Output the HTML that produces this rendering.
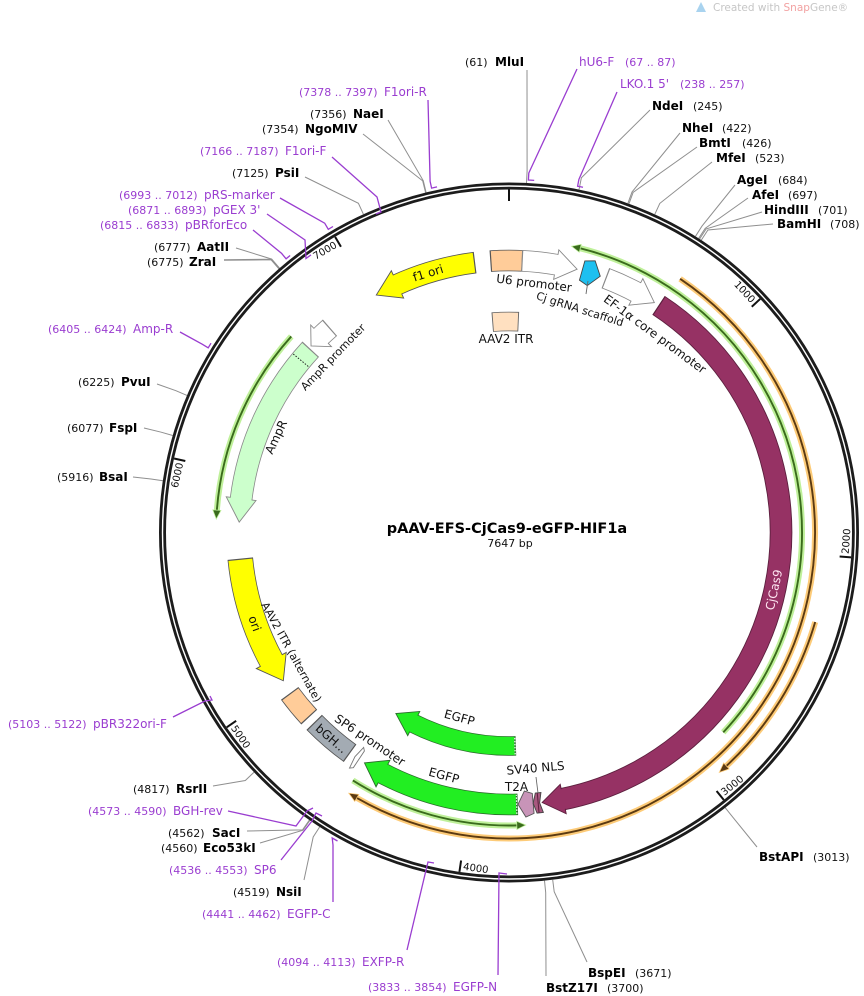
<!DOCTYPE html>
<html><head><meta charset="utf-8">
<style>
html,body{margin:0;padding:0;background:#fff;}
svg{display:block;}
text{font-family:"DejaVu Sans","Liberation Sans",sans-serif;}
.n{font-size:11px;fill:#111;}
.b{font-size:12px;font-weight:bold;fill:#000;}
.pr{font-size:11px;fill:#9a3dd0;}
.pn{font-size:12px;fill:#9a3dd0;}
.rl{fill:none;stroke:#8f8f8f;stroke-width:1;}
.pl{fill:none;stroke:#9a3dd0;stroke-width:1.3;}
.fl{font-size:12px;fill:#111;}
.fs{font-size:11px;fill:#111;}
.tk{font-size:10px;fill:#111;}
.c{fill:none;}
</style></head><body>
<svg width="864" height="996" viewBox="0 0 864 996" xmlns="http://www.w3.org/2000/svg">
<rect width="864" height="996" fill="#fff"/>

<!-- watermark -->
<path d="M696 12 L701 2 L706 12 Z" fill="#a9d3ef"/>
<text x="713" y="11" style="font-size:10.5px;fill:#c6c6c6">Created with <tspan style="fill:#f2a2a2">Snap</tspan>Gene®</text>

<!-- restriction site lines -->
<g class="rl">
<polyline points="527,70 527.1,171 526.5,183"/>
<polyline points="650,110 581.4,177.8 579,189.6"/>
<polyline points="680,133 632,192 627.9,203.3"/>
<polyline points="697,147 633.1,192.4 629,203.7"/>
<polyline points="712,162 659.8,203.4 654.8,214.3"/>
<polyline points="735,185 701.9,226.2 695.5,236.3"/>
<polyline points="748,198 705.2,228.3 698.7,238.3"/>
<polyline points="762,212 706.2,228.9 699.6,239"/>
<polyline points="773,224 707.9,230 701.3,240.1"/>
<polyline points="757,847 732.7,817.1 725.2,807.7"/>
<polyline points="587,962 554.2,891.7 552.7,879.8"/>
<polyline points="546,976 545.7,892.6 544.5,880.7"/>
<polyline points="304,880 313.2,837 319.7,826.9"/>
<polyline points="260,843 303,830.2 309.9,820.3"/>
<polyline points="247,831 302.5,829.9 309.4,820"/>
<polyline points="213,786 245.3,780.5 254,772.3"/>
<polyline points="133,477 151,479 162.9,480.7"/>
<polyline points="144,428 161.2,432.2 172.7,435.5"/>
<polyline points="157,384 175.9,390.7 187,395.4"/>
<polyline points="224,260 271.2,259.5 279.1,268.6" style="stroke-width:1.6"/>
<polyline points="236,248 271.7,259.1 279.6,268.2"/>
<polyline points="305,177 358.4,203.3 363.4,214.2"/>
<polyline points="363,134 422.7,180.9 425.6,192.6"/>
<polyline points="388,120 423.3,180.8 426.1,192.5"/>
</g>

<!-- ring -->
<circle cx="509" cy="532.5" r="346.5" fill="none" stroke="#1c1c1c" stroke-width="7"/>
<circle cx="509" cy="532.5" r="346.5" fill="none" stroke="#fff" stroke-width="1.4"/>

<!-- ticks -->
<g stroke="#111" stroke-width="2">
<line x1="509" y1="189.5" x2="509" y2="201"/>
<line x1="509" y1="189.5" x2="509" y2="201" transform="rotate(47.08 509 532.5)"/>
<line x1="509" y1="189.5" x2="509" y2="201" transform="rotate(94.15 509 532.5)"/>
<line x1="509" y1="189.5" x2="509" y2="201" transform="rotate(141.23 509 532.5)"/>
<line x1="509" y1="189.5" x2="509" y2="201" transform="rotate(188.31 509 532.5)"/>
<line x1="509" y1="189.5" x2="509" y2="201" transform="rotate(235.39 509 532.5)"/>
<line x1="509" y1="189.5" x2="509" y2="201" transform="rotate(282.46 509 532.5)"/>
<line x1="509" y1="189.5" x2="509" y2="201" transform="rotate(329.54 509 532.5)"/>
</g>
<g class="tk">
<text x="506" y="199.5" text-anchor="end" transform="rotate(47.08 509 532.5)">1000</text>
<text x="506" y="199.5" text-anchor="end" transform="rotate(282.46 509 532.5)">6000</text>
<text x="506" y="199.5" text-anchor="end" transform="rotate(329.54 509 532.5)">7000</text>
<text x="512" y="872.8" transform="rotate(-85.85 509 532.5)">2000</text>
<text x="512" y="872.8" transform="rotate(-38.77 509 532.5)">3000</text>
<text x="512" y="872.8" transform="rotate(8.31 509 532.5)">4000</text>
<text x="512" y="872.8" transform="rotate(55.39 509 532.5)">5000</text>
</g>

<!-- primer marks -->
<g class="pl">
<polyline points="577,69 528.8,173 528.4,180 534.2,180.4"/>
<polyline points="617,92 578.9,179.4 577.6,186.2 583,187.3"/>
<polyline points="428,100 430.1,181.3 431.6,188.1 437,186.9"/>
<polyline points="332,157 377,197 381,212 376,214"/>
<polyline points="280,198 324.7,223.2 328.3,229.3 333,226.5"/>
<polyline points="267,214 305,240 306,258.5 311,254.9"/>
<polyline points="253,230 281.6,253.4 286.1,258.8 290.1,255.5"/>
<polyline points="180,332 202.2,344.2 208.2,347.8 211,343.2"/>
<polyline points="173,717 205,701 212,700 210,696"/>
<polyline points="228,811 296,826 307,811 313,808"/>
<polyline points="281,860 312,821 316,813 322,816"/>
<polyline points="333,902 333,845 332.2,838 337.5,841"/>
<polyline points="407,950 427,866 428,862 434,863"/>
<polyline points="498,975 499,873 507,874"/>
</g>

<!-- thin arcs: green -->
<g fill="none">
<circle cx="509" cy="532.5" r="293" stroke="#bff09a" stroke-width="6" stroke-dasharray="608.54 5000" transform="rotate(-76 509 532.5)"/>
<circle cx="509" cy="532.5" r="293" stroke="#3a6b1c" stroke-width="1.9" stroke-dasharray="608.54 5000" transform="rotate(-76 509 532.5)"/>
<circle cx="509" cy="532.5" r="293" stroke="#bff09a" stroke-width="6" stroke-dasharray="172.85 5000" transform="rotate(88.4 509 532.5)"/>
<circle cx="509" cy="532.5" r="293" stroke="#3a6b1c" stroke-width="1.9" stroke-dasharray="172.85 5000" transform="rotate(88.4 509 532.5)"/>
<circle cx="509" cy="532.5" r="293" stroke="#bff09a" stroke-width="6" stroke-dasharray="192.79 5000" transform="rotate(184.3 509 532.5)"/>
<circle cx="509" cy="532.5" r="293" stroke="#3a6b1c" stroke-width="1.9" stroke-dasharray="192.79 5000" transform="rotate(184.3 509 532.5)"/>
<!-- orange -->
<circle cx="509" cy="532.5" r="306" stroke="#fdcb78" stroke-width="6" stroke-dasharray="939.43 5000" transform="rotate(-56 509 532.5)"/>
<circle cx="509" cy="532.5" r="306" stroke="#5b3a12" stroke-width="1.9" stroke-dasharray="939.43 5000" transform="rotate(-56 509 532.5)"/>
<circle cx="509" cy="532.5" r="319" stroke="#fdcb78" stroke-width="6" stroke-dasharray="171.48 5000" transform="rotate(16.3 509 532.5)"/>
<circle cx="509" cy="532.5" r="319" stroke="#5b3a12" stroke-width="1.9" stroke-dasharray="171.48 5000" transform="rotate(16.3 509 532.5)"/>
</g>
<g fill="#3a6b1c" stroke="#bff09a" stroke-width="1.5" paint-order="stroke">
<path d="M509 239.5L516.76 236.1L516.58 243.1Z" transform="rotate(12.5 509 532.5)"/>
<path d="M509 239.5L516.76 236.1L516.58 243.1Z" transform="rotate(176.9 509 532.5)"/>
<path d="M509 239.5L516.76 236.1L516.58 243.1Z" transform="rotate(272.8 509 532.5)"/>
</g>
<g fill="#5b3a12" stroke="#fdcb78" stroke-width="1.5" paint-order="stroke">
<path d="M509 226.5L500.9 223.11L501.08 230.1Z" transform="rotate(211.4 509 532.5)"/>
<path d="M509 213.5L500.56 210.11L500.74 217.11Z" transform="rotate(138.6 509 532.5)"/>
</g>

<!-- features -->
<g fill="none">
<!-- inner AAV2 ITR box -->
<circle cx="509" cy="532.5" r="211" stroke="#666" stroke-width="19.6" stroke-dasharray="26.51 5000" transform="rotate(265.45 509 532.5)"/>
<circle cx="509" cy="532.5" r="211" stroke="#ffe0c0" stroke-width="18" stroke-dasharray="24.67 5000" transform="rotate(265.7 509 532.5)"/>
<!-- ITR box top -->
<circle cx="509" cy="532.5" r="272" stroke="#555" stroke-width="21.6" stroke-dasharray="32.76 5000" transform="rotate(266.05 509 532.5)"/>
<circle cx="509" cy="532.5" r="272" stroke="#ffcc99" stroke-width="20" stroke-dasharray="30.38 5000" transform="rotate(266.3 509 532.5)"/>
<!-- U6 -->
<circle cx="509" cy="532.5" r="272" stroke="#888" stroke-width="21.6" stroke-dasharray="36.32 5000" transform="rotate(-87.35 509 532.5)"/>
<circle cx="509" cy="532.5" r="272" stroke="#fff" stroke-width="20" stroke-dasharray="35.13 5000" transform="rotate(-87.1 509 532.5)"/>
<!-- EF-1a -->
<circle cx="509" cy="532.5" r="272" stroke="#888" stroke-width="21.6" stroke-dasharray="34.89 5000" transform="rotate(-69.25 509 532.5)"/>
<circle cx="509" cy="532.5" r="272" stroke="#fff" stroke-width="20" stroke-dasharray="33.71 5000" transform="rotate(-69 509 532.5)"/>
<!-- Cas9 -->
<circle cx="509" cy="532.5" r="272" stroke="#5c1f3e" stroke-width="22.6" stroke-dasharray="643.02 5000" transform="rotate(-56.65 509 532.5)"/>
<circle cx="509" cy="532.5" r="272" stroke="#963264" stroke-width="20.8" stroke-dasharray="641.83 5000" transform="rotate(-56.4 509 532.5)"/>
<!-- EGFP2 -->
<circle cx="509" cy="532.5" r="272" stroke="#2b6b2b" stroke-width="21.6" stroke-dasharray="141.23 5000" transform="rotate(88.15 509 532.5)"/>
<circle cx="509" cy="532.5" r="272" stroke="#22ee22" stroke-width="20" stroke-dasharray="140.05 5000" transform="rotate(88.4 509 532.5)"/>
<!-- EGFP1 -->
<circle cx="509" cy="532.5" r="213.5" stroke="#2b6b2b" stroke-width="19.6" stroke-dasharray="106.76 5000" transform="rotate(88.15 509 532.5)"/>
<circle cx="509" cy="532.5" r="213.5" stroke="#22ee22" stroke-width="18" stroke-dasharray="105.83 5000" transform="rotate(88.4 509 532.5)"/>
<!-- bGH -->
<circle cx="509" cy="532.5" r="272" stroke="#555" stroke-width="21.6" stroke-dasharray="47.47 5000" transform="rotate(125.75 509 532.5)"/>
<circle cx="509" cy="532.5" r="272" stroke="#a3abb3" stroke-width="20" stroke-dasharray="45.1 5000" transform="rotate(126 509 532.5)"/>
<!-- AAV2 ITR alt -->
<circle cx="509" cy="532.5" r="272" stroke="#555" stroke-width="21.6" stroke-dasharray="30.86 5000" transform="rotate(137.25 509 532.5)"/>
<circle cx="509" cy="532.5" r="272" stroke="#ffcc99" stroke-width="20" stroke-dasharray="28.48 5000" transform="rotate(137.5 509 532.5)"/>
<!-- ori -->
<circle cx="509" cy="532.5" r="270" stroke="#555" stroke-width="25.6" stroke-dasharray="108.62 5000" transform="rotate(151.4 509 532.5)"/>
<circle cx="509" cy="532.5" r="270" stroke="#ffff00" stroke-width="24" stroke-dasharray="107.44 5000" transform="rotate(151.4 509 532.5)"/>
<!-- AmpR -->
<circle cx="509" cy="532.5" r="270" stroke="#888" stroke-width="22.6" stroke-dasharray="168.94 5000" transform="rotate(186.9 509 532.5)"/>
<circle cx="509" cy="532.5" r="270" stroke="#ccffcc" stroke-width="21" stroke-dasharray="167.76 5000" transform="rotate(186.9 509 532.5)"/>
<!-- AmpR promoter -->
<circle cx="509" cy="532.5" r="272" stroke="#888" stroke-width="21.6" stroke-dasharray="13.53 5000" transform="rotate(226 509 532.5)"/>
<circle cx="509" cy="532.5" r="272" stroke="#fff" stroke-width="20" stroke-dasharray="12.34 5000" transform="rotate(226 509 532.5)"/>
<!-- f1 ori -->
<circle cx="509" cy="532.5" r="272" stroke="#555" stroke-width="21.6" stroke-dasharray="82.37 5000" transform="rotate(245.5 509 532.5)"/>
<circle cx="509" cy="532.5" r="272" stroke="#ffff00" stroke-width="20" stroke-dasharray="81.18 5000" transform="rotate(245.5 509 532.5)"/>
</g>

<!-- arrow heads -->
<g stroke-width="0.9" stroke-linejoin="miter">
<path d="M486.88 251.37L486.48 246.39L509 260.5L488.84 276.29L488.44 271.31" fill="#fff" stroke="#888" transform="rotate(14.5 509 532.5)"/>
<path d="M486.88 251.37L486.48 246.39L509 260.5L488.84 276.29L488.44 271.31" fill="#fff" stroke="#888" transform="rotate(32.3 509 532.5)"/>
<path d="M486.88 251.37L486.48 246.39L509 260.5L488.84 276.29L488.44 271.31" fill="#963264" stroke="#5c1f3e" transform="rotate(173 509 532.5)"/>
<path d="M486.88 251.37L486.48 246.39L509 260.5L488.84 276.29L488.44 271.31" fill="#22ee22" stroke="#2b6b2b" transform="rotate(212.1 509 532.5)"/>
<path d="M487.67 311.02L487.24 306.54L509 319L489.83 333.42L489.4 328.94" fill="#22ee22" stroke="#2b6b2b" transform="rotate(212 509 532.5)"/>
<path d="M533.58 251.57L534.01 246.59L509 262.5L531.05 280.46L531.49 275.48" fill="#ffff00" stroke="#555" transform="rotate(236.7 509 532.5)"/>
<path d="M533.45 253.07L533.84 248.59L509 262.5L531.23 278.47L531.62 273.99" fill="#ccffcc" stroke="#888" transform="rotate(272.2 509 532.5)"/>
<path d="M523.76 250.89L524.02 245.89L509 260.5L522.45 275.85L522.71 270.86" fill="#fff" stroke="#888" transform="rotate(313.3 509 532.5)"/>
<path d="M533.58 251.57L534.01 246.59L509 260.5L531.4 276.48L531.84 271.5" fill="#ffff00" stroke="#555" transform="rotate(330.8 509 532.5)"/>
<!-- Cj gRNA scaffold -->
<polygon points="489.33,251.19 499.05,247.67 509,260.5 499.96,273.66 490.72,271.14" fill="#1ec0f0" stroke="#444" transform="rotate(19.6 509 532.5)"/>
<!-- T2A -->
<polygon points="493.26,250.94 501.54,247.6 509,260.5 502.22,273.59 494.37,270.91" fill="#c894b8" stroke="#555" transform="rotate(178.1 509 532.5)"/>
<!-- SV40 NLS -->
<polygon points="499.65,250.65 506,250.5 509,260.5 506,270.6 500.31,270.64 502.5,260.5" fill="#a8587f" stroke="#444" transform="rotate(174.9 509 532.5)"/>
<line x1="504" y1="250.6" x2="504" y2="270.6" stroke="#5c1f3e" stroke-width="1" transform="rotate(174.9 509 532.5)"/>
<!-- SP6 promoter -->
<polygon points="504.08,250.54 507,248 509,260.5 507,273 504.43,270.54" fill="#fff" stroke="#777" transform="rotate(214.5 509 532.5)"/>
</g>

<!-- dotted ends -->
<line x1="509" y1="251" x2="509" y2="270" stroke="#2b6b2b" stroke-width="1.2" transform="rotate(178.4 509 532.5)"/>
<line x1="509" y1="251" x2="509" y2="270" stroke="#fff" stroke-width="1.2" stroke-dasharray="1.5 1.5" transform="rotate(178.4 509 532.5)"/>
<line x1="509" y1="310.5" x2="509" y2="327.5" stroke="#2b6b2b" stroke-width="1.2" transform="rotate(178.4 509 532.5)"/>
<line x1="509" y1="310.5" x2="509" y2="327.5" stroke="#fff" stroke-width="1.2" stroke-dasharray="1.5 1.5" transform="rotate(178.4 509 532.5)"/>
<line x1="509" y1="252.5" x2="509" y2="272.5" stroke="#222" stroke-width="1" stroke-dasharray="1.5 1.5" transform="rotate(309.6 509 532.5)"/>

<!-- pointer lines -->
<line x1="586" y1="294" x2="588" y2="281" stroke="#666" stroke-width="0.9"/>
<line x1="536" y1="777" x2="538" y2="793" stroke="#666" stroke-width="0.9"/>

<!-- feature labels -->
<g text-anchor="middle">
<text class="fl" dy="0.35em" transform="translate(428 273) rotate(-17.3)">f1 ori</text>
<text class="fl" dy="0.35em" transform="translate(534 283) rotate(7)">U6 promoter</text>
<text class="fs" dy="0.35em" transform="translate(580 309) rotate(17.6)">Cj gRNA scaffold</text>
<text class="fl" dy="0.35em" transform="translate(655 334) rotate(36.4)">EF-1α core promoter</text>
<text class="fl" dy="0.35em" transform="translate(506 339)">AAV2 ITR</text>
<text class="fs" dy="0.35em" transform="translate(333 357) rotate(-46)">AmpR promoter</text>
<text class="fl" dy="0.35em" transform="translate(276 437) rotate(-65)">AmpR</text>
<text class="fl" dy="0.35em" transform="translate(254.8 623.5) rotate(70.3)">ori</text>
<text class="fs" dy="0.35em" transform="translate(291.5 652) rotate(61)">AAV2 ITR (alternate)</text>
<text class="fl" dy="0.35em" transform="translate(331.4 738.6) rotate(40.75)">bGH...</text>
<text class="fl" dy="0.35em" transform="translate(370 740) rotate(34)">SP6 promoter</text>
<text class="fl" dy="0.35em" transform="translate(459.5 717.5) rotate(15)">EGFP</text>
<text class="fl" dy="0.35em" transform="translate(444 775.5) rotate(15)">EGFP</text>
<text class="fl" dy="0.35em" transform="translate(535.5 768) rotate(-5)">SV40 NLS</text>
<text class="fl" dy="0.35em" transform="translate(516.5 787)">T2A</text>
<text class="fl" dy="0.35em" style="fill:#ffe6f2" transform="translate(773.9 589.8) rotate(-77.8)">CjCas9</text>
</g>

<!-- title -->
<text x="507" y="533" text-anchor="middle" style="font-size:14.5px;font-weight:bold;fill:#000">pAAV-EFS-CjCas9-eGFP-HIF1a</text>
<text x="510" y="547" text-anchor="middle" style="font-size:11px;fill:#111">7647 bp</text>

<!-- top labels -->
<text class="n" x="465" y="66">(61)</text><text class="b" x="495" y="66">MluI</text>
<text class="pn" x="579" y="66">hU6-F</text><text class="pr" x="625" y="66">(67 .. 87)</text>
<text class="pn" x="620" y="88">LKO.1 5'</text><text class="pr" x="680" y="88">(238 .. 257)</text>

<!-- right labels -->
<text class="b" x="652" y="110">NdeI</text><text class="n" x="693" y="110">(245)</text>
<text class="b" x="682" y="132">NheI</text><text class="n" x="722" y="132">(422)</text>
<text class="b" x="699" y="147">BmtI</text><text class="n" x="742" y="147">(426)</text>
<text class="b" x="716" y="162">MfeI</text><text class="n" x="755" y="162">(523)</text>
<text class="b" x="737" y="184">AgeI</text><text class="n" x="778" y="184">(684)</text>
<text class="b" x="752" y="199">AfeI</text><text class="n" x="788" y="199">(697)</text>
<text class="b" x="764" y="214">HindIII</text><text class="n" x="818" y="214">(701)</text>
<text class="b" x="777" y="228">BamHI</text><text class="n" x="830" y="228">(708)</text>
<text class="b" x="759" y="861">BstAPI</text><text class="n" x="813" y="861">(3013)</text>
<text class="b" x="588" y="977">BspEI</text><text class="n" x="635" y="977">(3671)</text>
<text class="b" x="546" y="992">BstZ17I</text><text class="n" x="607" y="992">(3700)</text>

<!-- left labels -->
<text class="pr" x="299" y="96">(7378 .. 7397)</text><text class="pn" x="384" y="96">F1ori-R</text>
<text class="n" x="310" y="118">(7356)</text><text class="b" x="353" y="118">NaeI</text>
<text class="n" x="262" y="133">(7354)</text><text class="b" x="305" y="133">NgoMIV</text>
<text class="pr" x="200" y="155">(7166 .. 7187)</text><text class="pn" x="285" y="155">F1ori-F</text>
<text class="n" x="232" y="177">(7125)</text><text class="b" x="275" y="177">PsiI</text>
<text class="pr" x="119" y="199">(6993 .. 7012)</text><text class="pn" x="204" y="199">pRS-marker</text>
<text class="pr" x="128" y="214">(6871 .. 6893)</text><text class="pn" x="213" y="214">pGEX 3'</text>
<text class="pr" x="100" y="229">(6815 .. 6833)</text><text class="pn" x="185" y="229">pBRforEco</text>
<text class="n" x="154" y="251">(6777)</text><text class="b" x="197" y="251">AatII</text>
<text class="n" x="147" y="266">(6775)</text><text class="b" x="189" y="266">ZraI</text>
<text class="pr" x="48" y="333">(6405 .. 6424)</text><text class="pn" x="133" y="333">Amp-R</text>
<text class="n" x="78" y="386">(6225)</text><text class="b" x="121" y="386">PvuI</text>
<text class="n" x="67" y="432">(6077)</text><text class="b" x="109" y="432">FspI</text>
<text class="n" x="57" y="481">(5916)</text><text class="b" x="99" y="481">BsaI</text>
<text class="pr" x="8" y="728">(5103 .. 5122)</text><text class="pn" x="93" y="728">pBR322ori-F</text>
<text class="n" x="133" y="793">(4817)</text><text class="b" x="176" y="793">RsrII</text>
<text class="pr" x="88" y="815">(4573 .. 4590)</text><text class="pn" x="173" y="815">BGH-rev</text>
<text class="n" x="168" y="837">(4562)</text><text class="b" x="212" y="837">SacI</text>
<text class="n" x="161" y="852">(4560)</text><text class="b" x="203" y="852">Eco53kI</text>
<text class="pr" x="169" y="874">(4536 .. 4553)</text><text class="pn" x="254" y="874">SP6</text>
<text class="n" x="233" y="896">(4519)</text><text class="b" x="276" y="896">NsiI</text>
<text class="pr" x="202" y="918">(4441 .. 4462)</text><text class="pn" x="287" y="918">EGFP-C</text>
<text class="pr" x="277" y="966">(4094 .. 4113)</text><text class="pn" x="362" y="966">EXFP-R</text>
<text class="pr" x="368" y="991">(3833 .. 3854)</text><text class="pn" x="453" y="991">EGFP-N</text>
</svg>
</body></html>
